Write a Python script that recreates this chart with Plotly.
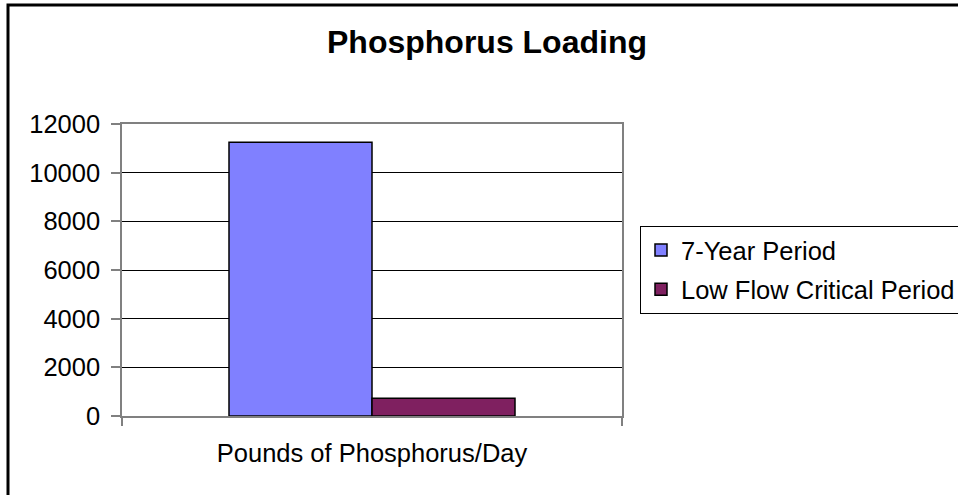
import plotly.graph_objects as go

categories = ["Pounds of Phosphorus/Day"]
series_names = ["7-Year Period", "Low Flow Critical Period"]
series_values = [[11250], [730]]
series_colors = ["#8080FF", "#7F2060"]
y_ticks = [0, 2000, 4000, 6000, 8000, 10000, 12000]

FONT = "Arial, 'Liberation Sans', sans-serif"

fig = go.Figure()
for i, (name, vals, col) in enumerate(zip(series_names, series_values, series_colors)):
    fig.add_trace(go.Bar(
        x=categories, y=vals, name=name,
        marker=dict(color=col, line=dict(color="black", width=1.5)),
        legendgroup=f"g{i}",
    ))

W, H = 958, 495
L, R, T, B = 122, 622, 124, 416

def px2x(px):
    return (px - L) / (R - L)

def px2y(py):
    return (B - py) / (B - T)

fig.update_layout(
    width=W, height=H,
    margin=dict(l=L, r=W - R, t=T, b=H - B, autoexpand=False),
    paper_bgcolor="white", plot_bgcolor="white",
    barmode="group", bargap=0.428, bargroupgap=0,
    font=dict(family=FONT, size=25.5, color="black"),
    title=dict(text="<b>Phosphorus Loading</b>", font=dict(size=32, family=FONT, color="black"),
               x=487 / W, xref="container", xanchor="center",
               y=1 - 42 / H, yref="container", yanchor="middle"),
    showlegend=True,
    legend=dict(x=px2x(640), y=px2y(226), xanchor="left", yanchor="top",
                xref="paper", yref="paper",
                bordercolor="black", borderwidth=1, bgcolor="white",
                font=dict(size=25.5, family=FONT, color="black"),
                traceorder="grouped", tracegroupgap=3, itemwidth=30),
    xaxis=dict(type="category", tickson="boundaries", ticks="outside", ticklen=8,
               tickcolor="#808080", tickwidth=1.5,
               showline=True, linecolor="#808080", linewidth=1.5, mirror=True,
               showgrid=False, ticklabelstandoff=14,
               tickfont=dict(size=25.5, family=FONT, color="black")),
    yaxis=dict(range=[0, 12000], tickvals=y_ticks, ticktext=[str(v) for v in y_ticks],
               ticks="outside", ticklen=9, tickcolor="#808080", tickwidth=1.5,
               showline=True, linecolor="#808080", linewidth=1.5, mirror=True,
               showgrid=True, gridcolor="black", gridwidth=1, zeroline=False,
               ticklabelstandoff=6,
               tickfont=dict(size=25.5, family=FONT, color="black")),
    shapes=[dict(type="rect", xref="paper", yref="paper",
                 x0=px2x(8), x1=px2x(1000), y0=px2y(520), y1=px2y(5),
                 line=dict(color="black", width=3), fillcolor="rgba(0,0,0,0)", layer="above")],
)

fig.write_html(
    "out.html",
    config={"displayModeBar": False},
    post_script="document.body.style.margin='0';document.body.style.overflow='hidden';",
)
